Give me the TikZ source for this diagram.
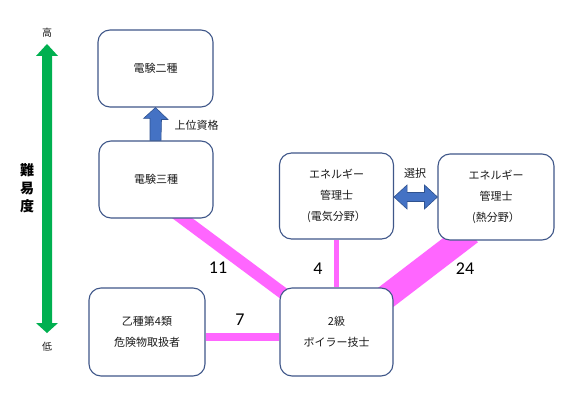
\documentclass[tikz,border=0pt]{standalone}
\usepackage{fontspec}
\setmainfont{Noto Sans CJK JP}
\newfontfamily\numfont{Carlito}
\usetikzlibrary{calc,backgrounds}
\definecolor{boxblue}{HTML}{3F5789}
\definecolor{pinkline}{HTML}{FF66FF}
\definecolor{greenarr}{HTML}{00B050}
\definecolor{bluefill}{HTML}{4472C4}
\definecolor{blueedge}{HTML}{2F528F}
\definecolor{txt}{HTML}{1A1A1A}
\begin{document}
\begin{tikzpicture}[x=1pt,y=-1pt,
  box/.style={draw=boxblue, line width=1.1pt, rounded corners=12pt, fill=white,
    align=center, text=txt, font=\fontsize{11}{21}\selectfont, inner sep=0pt},
  conn/.style={draw=pinkline},
  numlbl/.style={font=\numfont\fontsize{18}{18}\selectfont, text=black},
  smalllbl/.style={font=\fontsize{10}{12}\selectfont, text=txt},
  midlbl/.style={font=\fontsize{11}{13}\selectfont, text=txt}]
\useasboundingbox (0,0) rectangle (586,401);

% boxes
\node[box, minimum width=115pt, minimum height=77pt] (d2) at (155.5,68.5) {電験二種};
\node[box, minimum width=114pt, minimum height=77pt] (d3) at (156,179.5) {電験三種};
\node[box, minimum width=114pt, minimum height=86pt] (ee) at (336.5,196) {エネルギー\\管理士\\(電気分野）};
\node[box, minimum width=116pt, minimum height=86pt] (en) at (496,197) {エネルギー\\管理士\\(熱分野）};
\node[box, minimum width=116pt, minimum height=88pt] (ot) at (147,332) {乙種第4類\\危険物取扱者};
\node[box, minimum width=113pt, minimum height=88pt] (bo) at (336.5,332) {2級\\ボイラー技士};

% pink connectors behind boxes
\begin{scope}[on background layer]
  \fill[white] (0,0) rectangle (586,401);
  \draw[conn, line width=12pt] ($(d3.south)+(16,-8)$) -- ($(bo.north west)+(12,12)$);
  \draw[conn, line width=5pt] (ee.south) -- (bo.north);
  \draw[conn, line width=7.5pt] ($(ot.east)+(0,5)$) -- ($(bo.west)+(0,5)$);
  \draw[conn, line width=24.5pt] ($(en.south west)+(33,-8)$) -- ($(bo.north east)+(-21,20)$);
\end{scope}

% number labels
\node[numlbl] (n11) at (218,268) {11};
\node[numlbl] (n4) at (318,269) {4};
\node[numlbl] (n7) at (240,320) {7};
\node[numlbl] (n24) at (465,269) {24};

% blue up arrow
\fill[bluefill, draw=blueedge, line width=0.6pt]
  ($(d3.north)+(-6,0)$) -- ++(0,-22) -- ++(-6.5,0) -- ($(d2.south)+(0,0)$)
  -- ($(d2.south)+(12.5,12)$) -- ++(-6.5,0) -- ($(d3.north)+(5,0)$) -- cycle;
\node[midlbl, anchor=west] (up) at (171,125) {上位資格};

% blue double arrow
\fill[bluefill, draw=blueedge, line width=0.6pt]
  ($(ee.east)+(0,1)$) -- ++(13,-12) -- ++(0,7.5) -- ($(en.west)+(-13,-4.5)$)
  -- ++(0,-7.5) -- (en.west) -- ++(-13,12) -- ++(0,-7.5) -- ($(ee.east)+(13,5.5)$)
  -- ++(0,7.5) -- cycle;
\node[midlbl] (sel) at (415,173) {選択};

% green difficulty arrow
\coordinate (gt) at (47,44);
\coordinate (gb) at (47,333);
\fill[greenarr] (gt) -- ++(11,12) -- ++(-6,0) -- ($(gb)+(5,-10)$) -- ++(6,0) -- (gb)
  -- ++(-11,-10) -- ++(6,0) -- ($(gt)+(-5,12)$) -- ++(-6,0) -- cycle;
\node[smalllbl] (hi) at (47,33) {高};
\node[smalllbl] (lo) at (47,347) {低};
\node[font=\bfseries\fontsize{14}{18}\selectfont, text=black, align=center] (diff) at (27,188) {難\\易\\度};
\end{tikzpicture}
\end{document}
